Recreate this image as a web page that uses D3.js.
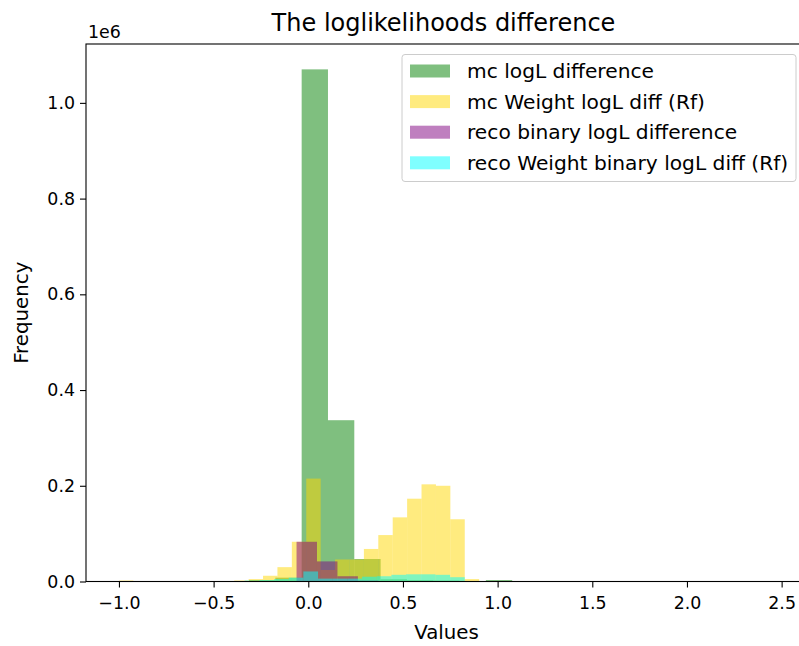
<!DOCTYPE html>
<html>
<head>
<meta charset="utf-8">
<script src="https://cdn.jsdelivr.net/npm/d3@7"></script>
<style>
  body { margin: 0; background: #fff; }
  svg { display: block; font-family: "DejaVu Sans", sans-serif; }
</style>
</head>
<body>
<div id="chart"></div>
<script>
// histogram values (counts per bin)
const seriesNames = ["mc logL difference", "mc Weight logL diff (Rf)",
                     "reco binary logL difference", "reco Weight binary logL diff (Rf)"];
const seriesColors = ["green", "gold", "purple", "cyan"];

// mc logL difference: 10 bins
const mcStart = -0.313, mcWidth = 0.139;
const mcCounts = [3000, 8000, 1070000, 337000, 47000, 5000, 3000, 2000, 1000, 3000];

// mc Weight logL diff (Rf): 25 bins from -1.0
const mcwStart = -1.0, mcwWidth = 0.0761;
const mcwCounts = [2000, 0, 0, 0, 0, 0, 0, 0, 2000, 5000, 12000, 30000, 83000, 215000,
                   24000, 46000, 46000, 68000, 97000, 134000, 173000, 203000, 200000, 130000, 5000];

// reco binary logL difference
const recoStart = -0.170, recoWidth = 0.108;
const recoCounts = [1000, 83000, 42000, 11000, 2000];

// reco Weight binary logL diff (Rf)
const recowStart = -0.336, recowWidth = 0.0775;
const recowCounts = [2000, 3000, 5000, 8000, 21000, 6000, 6000, 6000, 10000, 11000,
                     14000, 15000, 15000, 14000, 9000];

const yTicks = [0, 200000, 400000, 600000, 800000, 1000000];
const xTicks = [-1.0, -0.5, 0.0, 0.5, 1.0, 1.5, 2.0, 2.5];

const width = 799, height = 646;
const mLeft = 86, mRight = 807, mTop = 44, mBottom = 581.5;

const svg = d3.select("#chart").append("svg")
  .attr("width", width)
  .attr("height", height);

const x = d3.scaleLinear().domain([-1.174, 2.634]).range([mLeft, mRight]);
const y = d3.scaleLinear().domain([0, 1123000]).range([mBottom, mTop]);

function toBins(start, w, counts) {
  return counts.map((c, i) => ({x0: start + i * w, x1: start + (i + 1) * w, c: c}));
}

const series = [
  toBins(mcStart, mcWidth, mcCounts),
  toBins(mcwStart, mcwWidth, mcwCounts),
  toBins(recoStart, recoWidth, recoCounts),
  toBins(recowStart, recowWidth, recowCounts)
];

const plot = svg.append("g");
series.forEach((bins, k) => {
  plot.append("g")
    .selectAll("rect")
    .data(bins.filter(d => d.c > 0))
    .join("rect")
      .attr("x", d => x(d.x0))
      .attr("width", d => x(d.x1) - x(d.x0))
      .attr("y", d => y(d.c))
      .attr("height", d => y(0) - y(d.c))
      .attr("fill", seriesColors[k])
      .attr("fill-opacity", 0.5);
});

// axes
const xAxis = svg.append("g")
  .attr("transform", `translate(0,${mBottom})`)
  .call(d3.axisBottom(x).tickValues(xTicks).tickFormat(d3.format(".1f")).tickSize(6).tickPadding(5));
const yAxis = svg.append("g")
  .attr("transform", `translate(${mLeft},0)`)
  .call(d3.axisLeft(y).tickValues(yTicks).tickFormat(d => d3.format(".1f")(d / 1e6)).tickSize(6).tickPadding(5));

[xAxis, yAxis].forEach(a => {
  a.select(".domain").remove();
  a.selectAll("line").attr("stroke", "#000").attr("stroke-width", 1.1);
  a.selectAll("text").attr("font-size", 17.4).attr("fill", "#000")
    .attr("font-family", "DejaVu Sans, sans-serif");
});
xAxis.selectAll("text").attr("dy", "0.95em");

// frame
svg.append("rect")
  .attr("x", mLeft).attr("y", mTop)
  .attr("width", mRight - mLeft).attr("height", mBottom - mTop)
  .attr("fill", "none").attr("stroke", "#000").attr("stroke-width", 1.1);

svg.append("text")
  .attr("x", mLeft + 2).attr("y", 38)
  .attr("font-size", 17.4)
  .text("1e6");

svg.append("text")
  .attr("x", 443.5).attr("y", 31)
  .attr("text-anchor", "middle")
  .attr("font-size", 24)
  .text("The loglikelihoods difference");

svg.append("text")
  .attr("x", (mLeft + mRight) / 2).attr("y", 639)
  .attr("text-anchor", "middle")
  .attr("font-size", 19.8)
  .text("Values");

svg.append("text")
  .attr("transform", `translate(28,${(mTop + mBottom) / 2}) rotate(-90)`)
  .attr("text-anchor", "middle")
  .attr("font-size", 19.8)
  .text("Frequency");

// legend
const lg = svg.append("g");
lg.append("rect")
  .attr("x", 402).attr("y", 54.5).attr("width", 394).attr("height", 127)
  .attr("rx", 3)
  .attr("fill", "#fff").attr("fill-opacity", 0.8)
  .attr("stroke", "#ccc").attr("stroke-width", 1);
seriesNames.forEach((name, i) => {
  const cy = 71 + i * 30.6;
  lg.append("rect")
    .attr("x", 410).attr("y", cy - 6.5).attr("width", 40).attr("height", 13)
    .attr("fill", seriesColors[i]).attr("fill-opacity", 0.5);
  lg.append("text")
    .attr("x", 467).attr("y", cy + 7)
    .attr("font-size", 20.2)
    .text(name);
});
</script>
</body>
</html>
